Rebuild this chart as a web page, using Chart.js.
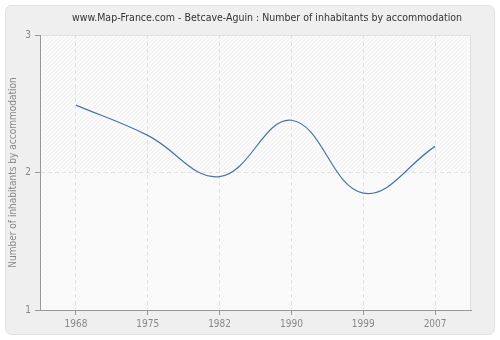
<!DOCTYPE html>
<html>
<head>
<meta charset="utf-8">
<script src="https://cdn.jsdelivr.net/npm/chart.js@4"></script>
<style>
  html, body { margin: 0; padding: 0; background: #fff; }
  #wrap { width: 500px; height: 340px; }
</style>
</head>
<body>
<div id="wrap"><canvas id="chart" width="500" height="340"></canvas></div>
<script>
const years = ['1968', '1975', '1982', '1990', '1999', '2007'];
const inhabitants = [2.49, 2.27, 1.97, 2.38, 1.85, 2.19];
const yTicks = [1, 2, 3];

const titleText = 'www.Map-France.com - Betcave-Aguin : Number of inhabitants by accommodation';
const fontFam = '"DejaVu Sans Condensed", "DejaVu Sans", sans-serif';

// panel + hatched plot background
const backdrop = {
    id: 'backdrop',
    beforeDraw(chart) {
        const { ctx, chartArea: a } = chart;
        ctx.save();
        ctx.fillStyle = '#ffffff';
        ctx.fillRect(0, 0, chart.width, chart.height);
        ctx.beginPath();
        ctx.roundRect(5.5, 5.5, 489, 329, 6);
        ctx.fillStyle = '#efefef';
        ctx.fill();
        ctx.strokeStyle = '#e2e2e2';
        ctx.lineWidth = 1;
        ctx.stroke();

        ctx.fillStyle = '#fcfcfc';
        ctx.fillRect(a.left, a.top, a.right - a.left, a.bottom - a.top);
        const mid = chart.scales.y.getPixelForValue(2);
        ctx.beginPath();
        ctx.rect(a.left, a.top, a.right - a.left, a.bottom - a.top);
        ctx.clip();
        ctx.lineWidth = 1;
        for (let d = -600; d < 900; d += 4) {
            ctx.strokeStyle = '#ececec';
            ctx.beginPath();
            ctx.moveTo(a.left + d, mid);
            ctx.lineTo(a.left + d + (mid - a.top), a.top);
            ctx.stroke();
            ctx.strokeStyle = '#f2f2f2';
            ctx.beginPath();
            ctx.moveTo(a.left + d - (a.bottom - mid), a.bottom);
            ctx.lineTo(a.left + d, mid);
            ctx.stroke();
        }
        ctx.restore();
        ctx.save();
        ctx.strokeStyle = '#dddddd';
        ctx.beginPath();
        ctx.moveTo(a.left, a.top + 0.5);
        ctx.lineTo(a.right - 0.5, a.top + 0.5);
        ctx.lineTo(a.right - 0.5, a.bottom);
        ctx.stroke();
        ctx.fillStyle = '#333333';
        ctx.font = '10.5px ' + fontFam;
        ctx.textAlign = 'center';
        ctx.textBaseline = 'middle';
        ctx.fillText(titleText, 267, 18);
        ctx.restore();
    }
};

new Chart(document.getElementById('chart'), {
    type: 'line',
    data: {
        labels: years,
        datasets: [{
            data: inhabitants,
            borderColor: '#4a74a6',
            borderWidth: 1.2,
            pointRadius: 0,
            fill: false,
            tension: 0.4
        }]
    },
    options: {
        responsive: false,
        animation: false,
        layout: { padding: { top: 35, right: 29, left: 0, bottom: 0 } },
        plugins: { legend: { display: false }, title: { display: false }, tooltip: { enabled: false } },
        scales: {
            x: {
                offset: true,
                afterFit: s => { s.height = 30; },
                grid: {
                    offset: false,
                    color: '#e2e2e2',
                    tickColor: '#999999',
                    tickLength: 5,
                    tickBorderDash: []
                },
                border: { color: '#999999', dash: [4, 3] },
                ticks: {
                    color: '#888888',
                    padding: 3,
                    maxRotation: 0,
                    font: { family: fontFam, size: 10 }
                }
            },
            y: {
                min: 1,
                max: 3,
                afterFit: s => { s.width = 40; },
                afterBuildTicks: s => { s.ticks = yTicks.map(v => ({ value: v })); },
                grid: {
                    color: '#e2e2e2',
                    tickColor: '#999999',
                    tickLength: 5,
                    tickBorderDash: []
                },
                border: { color: '#999999', dash: [4, 3] },
                ticks: {
                    color: '#888888',
                    padding: 4,
                    font: { family: fontFam, size: 10 }
                },
                title: {
                    display: true,
                    text: 'Number of inhabitants by accommodation',
                    color: '#888888',
                    padding: { top: 7, bottom: 0 },
                    font: { family: fontFam, size: 10 }
                }
            }
        }
    },
    plugins: [backdrop]
});
</script>
</body>
</html>
